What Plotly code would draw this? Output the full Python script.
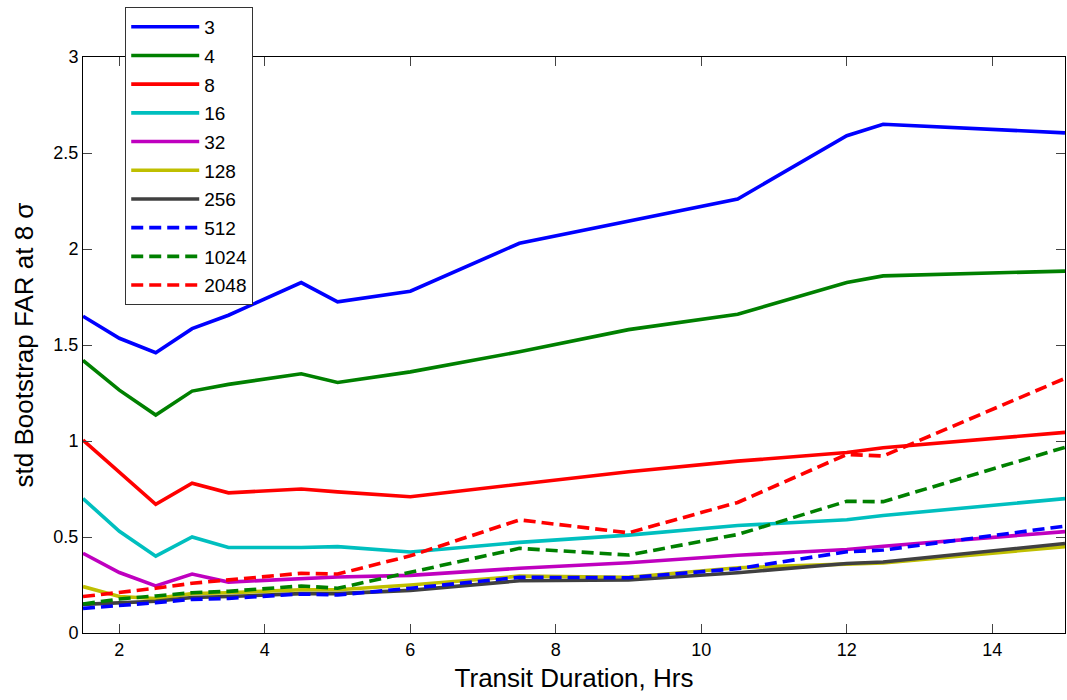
import plotly.graph_objects as go

# Transit duration grid (hours)
durations = [1.5, 2, 2.5, 3, 3.5, 4.5, 5, 6, 7.5, 9, 10.5, 12, 12.5, 15]

# std of bootstrap false-alarm rate at 8 sigma, one series per bin count
far_3 = [1.65, 1.535, 1.46, 1.585, 1.655, 1.825, 1.725, 1.78, 2.03, 2.145, 2.26, 2.59, 2.65, 2.605]
far_4 = [1.42, 1.265, 1.135, 1.26, 1.295, 1.35, 1.305, 1.36, 1.465, 1.58, 1.66, 1.825, 1.86, 1.885]
far_8 = [1.005, 0.84, 0.67, 0.78, 0.73, 0.75, 0.735, 0.71, 0.775, 0.84, 0.895, 0.94, 0.965, 1.045]
far_16 = [0.70, 0.53, 0.40, 0.50, 0.445, 0.445, 0.45, 0.422, 0.472, 0.51, 0.56, 0.59, 0.612, 0.70]
far_32 = [0.415, 0.315, 0.245, 0.307, 0.265, 0.28, 0.292, 0.30, 0.337, 0.366, 0.405, 0.435, 0.452, 0.528]
far_128 = [0.242, 0.19, 0.18, 0.205, 0.21, 0.225, 0.225, 0.25, 0.296, 0.29, 0.34, 0.36, 0.365, 0.45]
far_256 = [0.149, 0.155, 0.165, 0.185, 0.19, 0.205, 0.205, 0.222, 0.272, 0.276, 0.314, 0.362, 0.37, 0.466]
far_512 = [0.128, 0.142, 0.158, 0.175, 0.18, 0.203, 0.198, 0.233, 0.29, 0.288, 0.335, 0.423, 0.432, 0.557]
far_1024 = [0.151, 0.177, 0.193, 0.21, 0.217, 0.245, 0.233, 0.316, 0.441, 0.406, 0.513, 0.686, 0.684, 0.967]
far_2048 = [0.19, 0.21, 0.233, 0.259, 0.276, 0.311, 0.307, 0.402, 0.589, 0.522, 0.68, 0.93, 0.922, 1.326]

series = [
    ("3", far_3, "#0000ff", "solid"),
    ("4", far_4, "#008000", "solid"),
    ("8", far_8, "#ff0000", "solid"),
    ("16", far_16, "#00bfbf", "solid"),
    ("32", far_32, "#bf00bf", "solid"),
    ("128", far_128, "#bfbf00", "solid"),
    ("256", far_256, "#404040", "solid"),
    ("512", far_512, "#0000ff", "dash"),
    ("1024", far_1024, "#008000", "dash"),
    ("2048", far_2048, "#ff0000", "dash"),
]

x_ticks = [2, 4, 6, 8, 10, 12, 14]
y_ticks = [0, 0.5, 1, 1.5, 2, 2.5, 3]
y_tick_text = ["0", "0.5", "1", "1.5", "2", "2.5", "3"]

fig = go.Figure()
for i, (name, vals, color, dash) in enumerate(series):
    fig.add_trace(go.Scatter(
        x=durations, y=vals, mode="lines", name=name,
        legendgroup=f"g{i}",
        line=dict(color=color, width=3.6,
                  dash="12px,6px" if dash == "dash" else "solid"),
    ))

font_family = "Liberation Sans, Arial, Helvetica, sans-serif"

fig.update_layout(
    width=1067, height=700,
    margin=dict(l=83, r=2, t=57, b=67),
    paper_bgcolor="white", plot_bgcolor="white",
    font=dict(family=font_family, size=18, color="black"),
    showlegend=True,
    legend=dict(
        x=0.043, y=1.087, xanchor="left", yanchor="top",
        bgcolor="white", bordercolor="#333333", borderwidth=1,
        font=dict(size=19), itemwidth=68, tracegroupgap=1,
        traceorder="grouped",
    ),
    xaxis=dict(
        range=[1.5, 15], tickvals=x_ticks, ticks="inside", ticklen=9,
        showline=True, mirror="ticks", linecolor="black", linewidth=1,
        showgrid=False, zeroline=False,
        title=dict(text="Transit Duration, Hrs", font=dict(size=26), standoff=10),
        tickfont=dict(size=18),
    ),
    yaxis=dict(
        range=[0, 3], tickvals=y_ticks, ticktext=y_tick_text,
        ticks="inside", ticklen=9,
        showline=True, mirror="ticks", linecolor="black", linewidth=1,
        showgrid=False, zeroline=False,
        title=dict(text="std Bootstrap FAR at 8 σ", font=dict(size=26), standoff=12),
        tickfont=dict(size=18),
    ),
)

fig.write_html("out.html")
